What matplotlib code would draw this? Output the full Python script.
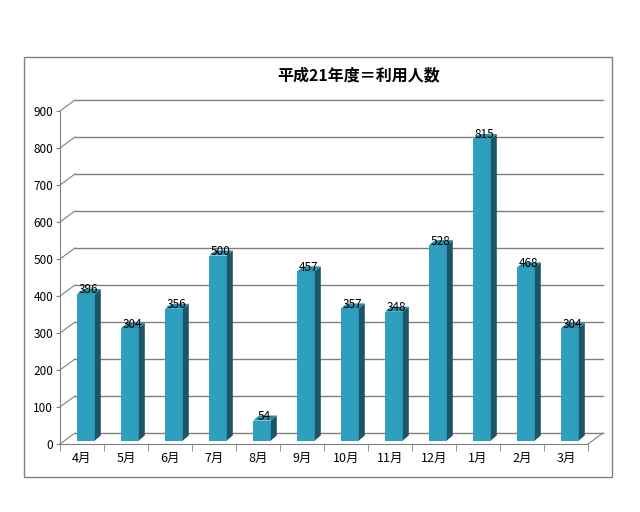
import matplotlib.pyplot as plt
from matplotlib.patches import Polygon, Rectangle

plt.rcParams["font.family"] = ["Noto Sans CJK JP", "DejaVu Sans"]

# data
months = ["4月", "5月", "6月", "7月", "8月", "9月", "10月", "11月", "12月", "1月", "2月", "3月"]
users = [396, 304, 356, 500, 54, 457, 357, 348, 528, 815, 468, 304]
title = "平成21年度＝利用人数"
yticks = [0, 100, 200, 300, 400, 500, 600, 700, 800, 900]

W, H = 640, 512
fig = plt.figure(figsize=(W / 100, H / 100), dpi=100)

# front plane of the pseudo-3D chart, in pixels
left, right, bottom, top = 60, 588, 444, 111
ax = fig.add_axes([left / W, 1 - bottom / H, (right - left) / W, (bottom - top) / H])
n = len(months)
ax.set_xlim(-0.5, n - 0.5)
ax.set_ylim(0, 900)

# pixel -> data conversion
px_x = n / (right - left)
px_y = 900 / (bottom - top)

# depth offsets in pixels
wall_dx, wall_dy = 15, 11
bar_dx, bar_dy = 6, 5
base_dx, base_dy = 4, 3.5  # bars stand a little behind the front plane

grid_color = "#808080"
front_c = "#2E9FBE"
side_c = "#1B5566"
top_c = "#2A8DA8"

# back wall gridlines and their diagonal connectors
for t in yticks:
    ax.plot([-0.5 + wall_dx * px_x, n - 0.5 + wall_dx * px_x],
            [t + wall_dy * px_y] * 2, color=grid_color, lw=1, clip_on=False, zorder=1)
    ax.plot([-0.5, -0.5 + wall_dx * px_x], [t, t + wall_dy * px_y],
            color=grid_color, lw=0.8, clip_on=False, zorder=1)
# floor right edge
ax.plot([n - 0.5, n - 0.5 + wall_dx * px_x], [0, wall_dy * px_y],
        color=grid_color, lw=0.8, clip_on=False, zorder=1)

# bars
bw = 0.4
y0 = base_dy * px_y
xs = [i + base_dx * px_x for i in range(n)]
ax.bar(xs, users, width=bw, bottom=y0, color=front_c, zorder=3)
for x, v in zip(xs, users):
    xr = x + bw / 2
    xl = x - bw / 2
    vt = v + y0
    side = Polygon([(xr, y0), (xr + bar_dx * px_x, y0 + bar_dy * px_y),
                    (xr + bar_dx * px_x, vt + bar_dy * px_y), (xr, vt)],
                   closed=True, facecolor=side_c, edgecolor="none", zorder=3)
    topf = Polygon([(xl, vt), (xr, vt), (xr + bar_dx * px_x, vt + bar_dy * px_y),
                    (xl + bar_dx * px_x, vt + bar_dy * px_y)],
                   closed=True, facecolor=top_c, edgecolor="none", zorder=3)
    ax.add_patch(side)
    ax.add_patch(topf)
    ax.text(x + 0.05, vt + 4 * px_y, str(v), ha="center", va="center",
            fontsize=8.5, color="black", zorder=5)

# axes styling
for s in ["top", "right"]:
    ax.spines[s].set_visible(False)
for s in ["left", "bottom"]:
    ax.spines[s].set_color(grid_color)
ax.set_yticks(yticks)
ax.set_yticklabels([str(t) for t in yticks], fontsize=8.5)
ax.tick_params(axis="y", length=3, color=grid_color, pad=2)
ax.set_xticks(range(n))
ax.set_xticklabels(months, fontsize=9)
ax.set_xticks([i - 0.5 for i in range(n + 1)], minor=True)
ax.tick_params(axis="x", which="major", length=0, pad=6)
ax.tick_params(axis="x", which="minor", length=5, color=grid_color)
ax.patch.set_visible(False)

# title and outer frame
fig.text(359 / W, 1 - 75 / H, title, ha="center", va="center",
         fontsize=11.5, fontweight="bold")
fig.patches.append(Rectangle((24 / W, 1 - 477 / H), 588 / W, 420 / H,
                             transform=fig.transFigure, fill=False,
                             edgecolor=grid_color, lw=1))

fig.savefig("out.png", dpi=100)
